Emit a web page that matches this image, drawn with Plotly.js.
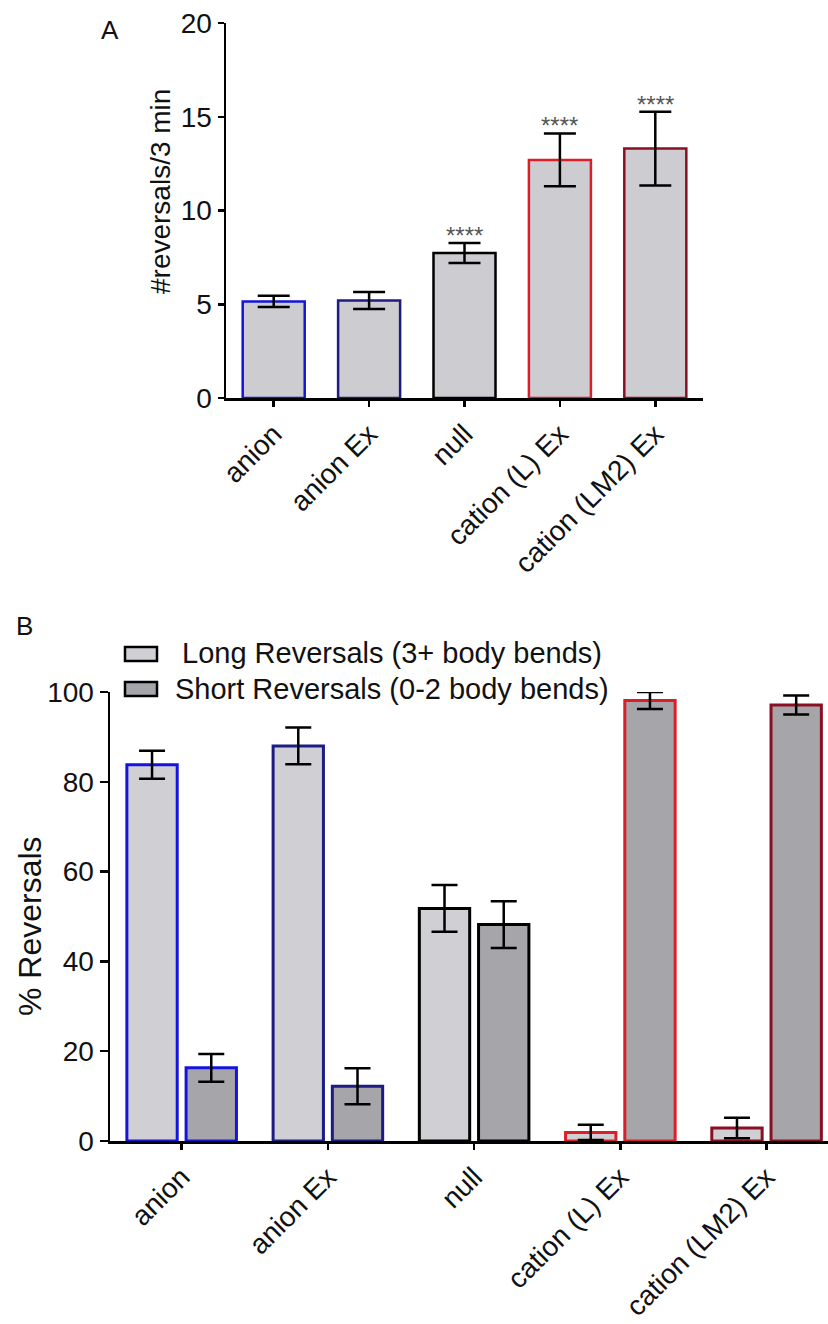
<!DOCTYPE html>
<html><head><meta charset="utf-8">
<script src="https://cdn.plot.ly/plotly-3.0.1.min.js"></script>
<style>html,body{margin:0;padding:0;background:#fff}#chart{width:828px;height:1324px}</style>
</head><body><div id="chart"></div>
<script>
// ---- data ----
const categories = ["anion", "anion Ex", "null", "cation (L) Ex", "cation (LM2) Ex"];
const ratesMean = [5.15, 5.2, 7.73, 12.7, 13.3];
const ratesSem = [0.3, 0.45, 0.53, 1.41, 1.97];
const significance = ["", "", "****", "****", "****"];
const longPct = [83.8, 88.0, 51.8, 1.9, 2.9];
const longSem = [3.1, 4.1, 5.2, 1.7, 2.3];
const shortPct = [16.3, 12.2, 48.2, 98.1, 97.1];
const shortSem = [3.1, 4.0, 5.2, 1.9, 2.1];
const seriesNames = ["Long Reversals (3+ body bends)", "Short Reversals (0-2 body bends)"];
const titleA = "#reversals/3 min";
const titleB = "% Reversals";

// ---- styles ----
const W = 828, H = 1324;
const px = v => v / W, py = v => 1 - v / H;
const outlineColors = ["#1414dc", "#1c1c84", "#000000", "#dc1e28", "#8a0f22"];
const lightFill = "#d0d0d4", darkFill = "#a6a6aa";
const FONT = "Liberation Sans, Arial, sans-serif";

const traces = [
  {
    type: "bar", x: categories, y: ratesMean, xaxis: "x", yaxis: "y", width: 0.65,
    marker: { color: "#cdcdd1", line: { color: outlineColors, width: 2.5 } },
    error_y: { type: "data", array: ratesSem, visible: true, color: "#000", thickness: 2.5, width: 16 },
    showlegend: false, hoverinfo: "skip"
  },
  {
    type: "bar", name: seriesNames[0], x: categories, y: longPct, xaxis: "x2", yaxis: "y2",
    marker: { color: lightFill, line: { color: outlineColors, width: 3 } },
    error_y: { type: "data", array: longSem, visible: true, color: "#000", thickness: 2.5, width: 13 },
    showlegend: false, hoverinfo: "skip"
  },
  {
    type: "bar", name: seriesNames[1], x: categories, y: shortPct, xaxis: "x2", yaxis: "y2",
    marker: { color: darkFill, line: { color: outlineColors, width: 3 } },
    error_y: { type: "data", array: shortSem, visible: true, color: "#000", thickness: 2.5, width: 13 },
    showlegend: false, hoverinfo: "skip"
  }
];

const axisCommon = {
  showline: true, linecolor: "#000", linewidth: 2.5, ticks: "outside", tickcolor: "#000",
  tickwidth: 2.5, showgrid: false, zeroline: false, fixedrange: true,
  tickfont: { family: FONT, size: 28, color: "#111" }
};

const annotations = [];
significance.forEach((s, i) => {
  if (!s) return;
  annotations.push({
    xref: "x", yref: "y", x: categories[i], y: ratesMean[i] + ratesSem[i], text: s,
    showarrow: false, yanchor: "bottom", yshift: -8, font: { family: FONT, size: 24, color: "#555" }
  });
});
const label = (x, y, text, size, extra) => Object.assign({
  xref: "paper", yref: "paper", x: px(x), y: py(y), text: text, showarrow: false,
  xanchor: "center", yanchor: "middle", font: { family: FONT, size: size, color: "#111" }
}, extra || {});
annotations.push(
  label(110, 30, "A", 26),
  label(24, 626, "B", 26),
  label(160, 192, titleA, 28, { textangle: -90 }),
  label(30, 926, titleB, 32, { textangle: -90 }),
  label(180, 653, seriesNames[0], 29, { xanchor: "left" }),
  label(173, 689, seriesNames[1], 29, { xanchor: "left" })
);

const shapes = [
  { type: "rect", xref: "paper", yref: "paper", x0: px(125), x1: px(157), y0: py(661), y1: py(647),
    fillcolor: lightFill, line: { color: "#000", width: 2.5 } },
  { type: "rect", xref: "paper", yref: "paper", x0: px(125), x1: px(157), y0: py(696), y1: py(682),
    fillcolor: darkFill, line: { color: "#000", width: 2.5 } }
];

const layout = {
  width: W, height: H, margin: { l: 0, r: 0, t: 0, b: 0 },
  paper_bgcolor: "#fff", plot_bgcolor: "rgba(0,0,0,0)",
  font: { family: FONT, color: "#111" },
  barmode: "group", bargap: 0.19, bargroupgap: 0.15, showlegend: false,
  xaxis: Object.assign({}, axisCommon, { domain: [px(226), px(703)], range: [-0.5, 4.5], anchor: "y",
    tickangle: -45, ticklen: 6 }),
  yaxis: Object.assign({}, axisCommon, { domain: [py(398), py(23)], range: [0, 20], dtick: 5, anchor: "x",
    ticklen: 6 }),
  xaxis2: Object.assign({}, axisCommon, { domain: [px(110), 1], range: [-0.49, 4.42], anchor: "y2",
    tickangle: -45, ticklen: 6 }),
  yaxis2: Object.assign({}, axisCommon, { domain: [py(1141), py(692)], range: [0, 100], dtick: 20, anchor: "x2",
    ticklen: 8 }),
  annotations: annotations, shapes: shapes
};

Plotly.newPlot("chart", traces, layout, { displayModeBar: false, staticPlot: true });
</script></body></html>
